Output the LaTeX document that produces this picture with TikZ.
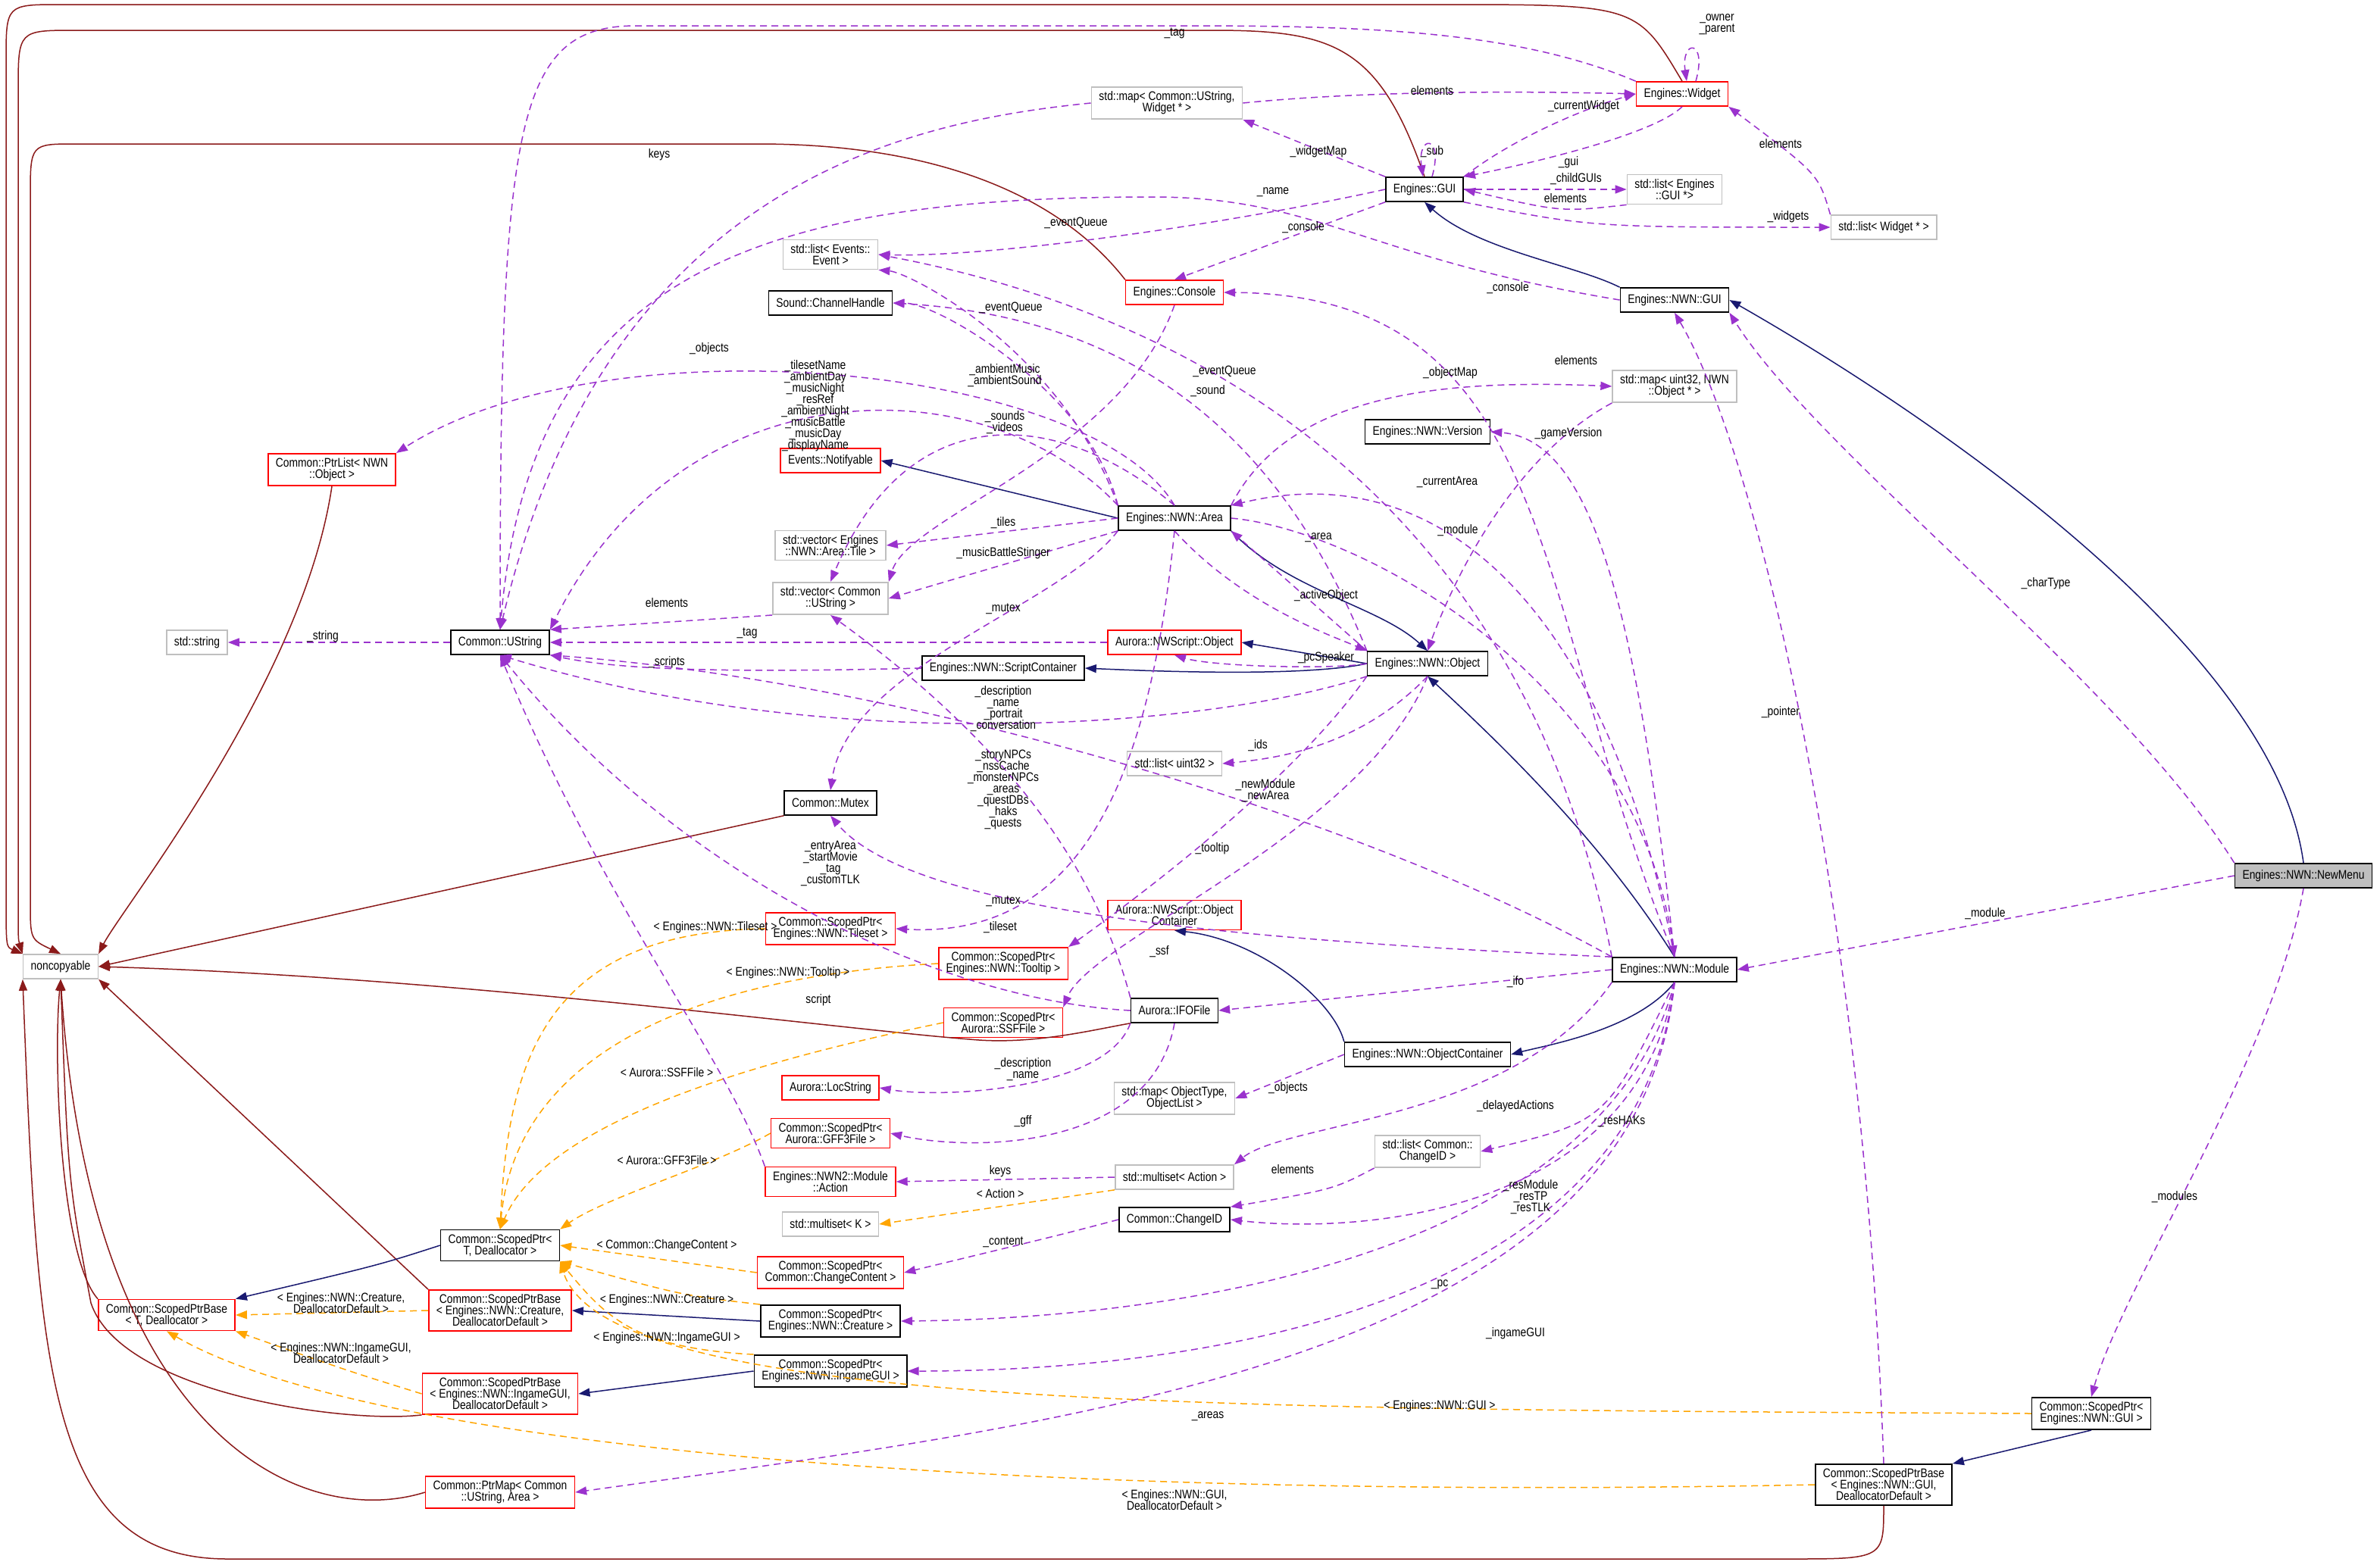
\documentclass[tikz,border=0pt]{standalone}
\usepackage{fontspec}
\setmainfont{Liberation Sans}[FakeStretch=0.84]
\usetikzlibrary{arrows.meta}
\definecolor{pur}{HTML}{9A32CD}
\definecolor{mid}{HTML}{191970}
\definecolor{fire}{HTML}{8B1A1A}
\definecolor{org}{HTML}{FFA500}
\definecolor{gbox}{HTML}{BFBFBF}
\newcommand\nf{\fontsize{16.5}{15}\selectfont\lineskiplimit=-10pt\relax}
\tikzset{
 nd/.style={draw, line width=1.6pt, align=center, inner xsep=10pt, inner ysep=6pt, minimum height=32pt, font=\nf, fill=white},
 bk/.style={nd, draw=black},
 rd/.style={nd, draw=red},
 gr/.style={nd, draw=gbox},
 tipx/.style={-{Triangle[length=15pt,width=11pt]}},
 dep/.style={tipx, draw=pur, line width=1.5pt, dash pattern=on 9pt off 6pt},
 inh/.style={tipx, draw=mid, line width=1.5pt},
 prv/.style={tipx, draw=fire, line width=1.5pt},
 tpl/.style={tipx, draw=org, line width=1.5pt, dash pattern=on 9pt off 6pt},
 lb/.style={font=\nf, align=center, inner sep=1pt}
}
\begin{document}
\begin{tikzpicture}[x=2pt,y=-2pt]
\useasboundingbox[fill=white] (0,0) rectangle (1570.5,1032.5);
% ---------- nodes
\node[nd, draw=black, fill=gbox] (NewMenu) at (1520,578) {Engines::NWN::NewMenu};
\node[rd] (Widget) at (1110,62) {Engines::Widget};
\node[gr] (mapW) at (770,68) {std::map{\textless} Common::UString,\\Widget * {\textgreater}};
\node[bk] (GUI) at (940,125) {Engines::GUI};
\node[gr] (listG) at (1105,125) {std::list{\textless} Engines\\::GUI *{\textgreater}};
\node[gr] (listW) at (1243,150) {std::list{\textless} Widget * {\textgreater}};
\node[gr] (listE) at (548,168) {std::list{\textless} Events::\\Event {\textgreater}};
\node[rd] (Console) at (775,193) {Engines::Console};
\node[bk] (NGUI) at (1105,198) {Engines::NWN::GUI};
\node[bk] (Chan) at (548,200) {Sound::ChannelHandle};
\node[gr] (mapO) at (1105,255) {std::map{\textless} uint32, NWN\\::Object * {\textgreater}};
\node[bk] (Ver) at (942,285) {Engines::NWN::Version};
\node[rd] (PtrList) at (219,310) {Common::PtrList{\textless} NWN\\::Object {\textgreater}};
\node[rd] (Notif) at (548,304) {Events::Notifyable};
\node[bk] (Area) at (775,342) {Engines::NWN::Area};
\node[gr] (vecT) at (548,360) {std::vector{\textless} Engines\\::NWN::Area::Tile {\textgreater}};
\node[gr] (vecU) at (548,395) {std::vector{\textless} Common\\::UString {\textgreater}};
\node[gr] (string) at (130,424) {std::string};
\node[bk] (UStr) at (330,424) {Common::UString};
\node[rd] (NWSO) at (775,424) {Aurora::NWScript::Object};
\node[bk] (SC) at (662,441) {Engines::NWN::ScriptContainer};
\node[bk] (Obj) at (942,438) {Engines::NWN::Object};
\node[gr] (listU) at (775,504) {std::list{\textless} uint32 {\textgreater}};
\node[bk] (Mutex) at (548,530) {Common::Mutex};
\node[rd] (SPTile) at (548,613) {Common::ScopedPtr{\textless}\\Engines::NWN::Tileset {\textgreater}};
\node[rd] (NWSOC) at (775,604) {Aurora::NWScript::Object\\Container};
\node[rd] (SPTool) at (662,636) {Common::ScopedPtr{\textless}\\Engines::NWN::Tooltip {\textgreater}};
\node[bk] (Module) at (1105,640) {Engines::NWN::Module};
\node[gr] (noncop) at (40,638) {noncopyable};
\node[bk] (IFO) at (775,667) {Aurora::IFOFile};
\node[rd] (SPSSF) at (662,675) {Common::ScopedPtr{\textless}\\Aurora::SSFFile {\textgreater}};
\node[gr] (mapOT) at (775,725) {std::map{\textless} ObjectType,\\ObjectList {\textgreater}};
\node[bk] (OC) at (942,696) {Engines::NWN::ObjectContainer};
\node[rd] (LocS) at (548,718) {Aurora::LocString};
\node[rd] (SPGFF) at (548,748) {Common::ScopedPtr{\textless}\\Aurora::GFF3File {\textgreater}};
\node[rd] (Action) at (548,780) {Engines::NWN2::Module\\::Action};
\node[gr] (msA) at (775,777) {std::multiset{\textless} Action {\textgreater}};
\node[gr] (listC) at (942,760) {std::list{\textless} Common::\\ChangeID {\textgreater}};
\node[gr] (msK) at (548,808) {std::multiset{\textless} K {\textgreater}};
\node[bk] (ChID) at (775,805) {Common::ChangeID};
\node[bk] (SPT) at (330,822) {Common::ScopedPtr{\textless}\\T, Deallocator {\textgreater}};
\node[rd] (SPCC) at (548,840) {Common::ScopedPtr{\textless}\\Common::ChangeContent {\textgreater}};
\node[rd] (SPB) at (110,868) {Common::ScopedPtrBase\\{\textless} T, Deallocator {\textgreater}};
\node[rd] (SPBC) at (330,865) {Common::ScopedPtrBase\\{\textless} Engines::NWN::Creature,\\DeallocatorDefault {\textgreater}};
\node[bk] (SPC) at (548,872) {Common::ScopedPtr{\textless}\\Engines::NWN::Creature {\textgreater}};
\node[rd] (SPBI) at (330,920) {Common::ScopedPtrBase\\{\textless} Engines::NWN::IngameGUI,\\DeallocatorDefault {\textgreater}};
\node[bk] (SPI) at (548,905) {Common::ScopedPtr{\textless}\\Engines::NWN::IngameGUI {\textgreater}};
\node[bk] (SPG) at (1380,933) {Common::ScopedPtr{\textless}\\Engines::NWN::GUI {\textgreater}};
\node[rd] (PtrMap) at (330,985) {Common::PtrMap{\textless} Common\\::UString, Area {\textgreater}};
\node[bk] (SPBG) at (1243,980) {Common::ScopedPtrBase\\{\textless} Engines::NWN::GUI,\\DeallocatorDefault {\textgreater}};
% ---------- private inheritance (noncopyable)
\draw[prv] (Widget.north) .. controls (1080,3) .. (950,3) -- (40,3) .. controls (4,3) .. (4,40) -- (4,590) .. controls (4,625) .. (noncop.north west);
\draw[prv] (GUI.north) .. controls (910,30) and (880,20) .. (800,20) -- (50,20) .. controls (12,20) .. (12,60) -- (12,590) .. controls (12,620) .. (noncop.north west);
\draw[prv] (Console.north west) .. controls (700,130) and (620,95) .. (500,95) -- (50,95) .. controls (20,95) .. (20,130) -- (20,595) .. controls (20,620) .. (noncop.north);
\draw[prv] (PtrList.south) .. controls (200,450) and (80,600) .. (noncop.north east);
\draw[prv] (Mutex.south west) -- (noncop.east);
\draw[prv] (IFO.south west) .. controls (720,680) and (680,690) .. (640,686) .. controls (560,680) and (300,645) .. (noncop.east);
\draw[prv] (SPB.north west) .. controls (40,830) and (35,700) .. (noncop.south);
\draw[prv] (SPBC.north west) -- (noncop.south east);
\draw[prv] (SPBI.south west) .. controls (230,940) and (80,920) .. (60,860) .. controls (45,780) .. (noncop.south);
\draw[prv] (PtrMap.west) .. controls (200,1010) and (60,950) .. (noncop.south);
\draw[prv] (SPBG.south) .. controls (1243,1029) .. (1180,1029) -- (150,1029) .. controls (30,1029) and (25,900) .. (noncop.south west);
% ---------- public inheritance
\draw[inh] (NGUI.north west) .. controls (1040,175) and (975,165) .. (GUI.south);
\draw[inh] (NewMenu.north) .. controls (1500,420) and (1250,260) .. (NGUI.east);
\draw[inh] (Area.west) -- (Notif.east);
\draw[inh] (Area.south east) .. controls (850,390) and (910,400) .. (Obj.north);
\draw[inh] (Obj.west) -- (NWSO.east);
\draw[inh] (Obj.west) .. controls (860,447) and (760,443) .. (SC.east);
\draw[inh] (Module.north) .. controls (1060,560) and (1000,500) .. (Obj.south);
\draw[inh] (OC.north west) .. controls (880,660) and (830,620) .. (NWSOC.south);
\draw[inh] (Module.south) .. controls (1080,680) and (1020,690) .. (OC.east);
\draw[inh] (SPT.west) .. controls (250,835) .. (SPB.north east);
\draw[inh] (SPC.west) -- (SPBC.east);
\draw[inh] (SPI.west) -- (SPBI.east);
\draw[inh] (SPG.south) -- (SPBG.north east);
% ---------- template instances
\draw[tpl] (SPTile.west) .. controls (360,615) and (335,700) .. (SPT.north);
\draw[tpl] (SPTool.west) .. controls (450,645) and (340,700) .. (SPT.north);
\draw[tpl] (SPSSF.west) .. controls (500,700) and (360,740) .. (SPT.north);
\draw[tpl] (SPGFF.west) .. controls (470,770) and (400,790) .. (SPT.north east);
\draw[tpl] (SPCC.west) -- (SPT.east);
\draw[tpl] (SPC.north west) .. controls (450,855) .. (SPT.south east);
\draw[tpl] (SPI.north west) .. controls (420,890) and (400,870) .. (SPT.south east);
\draw[tpl] (SPG.west) .. controls (800,930) and (400,930) .. (SPT.south east);
\draw[tpl] (SPBC.west) -- (SPB.east);
\draw[tpl] (SPBI.west) .. controls (230,905) .. (SPB.south east);
\draw[tpl] (SPBG.west) .. controls (700,990) and (250,960) .. (SPB.south);
\draw[tpl] (msA.south west) -- (msK.east);
\node[lb] (t1) at (472,612) {{\textless} Engines::NWN::Tileset {\textgreater}};
\node[lb] (t2) at (520,642) {{\textless} Engines::NWN::Tooltip {\textgreater}};
\node[lb] (t3) at (440,708) {{\textless} Aurora::SSFFile {\textgreater}};
\node[lb] (t4) at (440,766) {{\textless} Aurora::GFF3File {\textgreater}};
\node[lb] (t5) at (440,822) {{\textless} Common::ChangeContent {\textgreater}};
\node[lb] (t6) at (440,858) {{\textless} Engines::NWN::Creature {\textgreater}};
\node[lb] (t7) at (440,883) {{\textless} Engines::NWN::IngameGUI {\textgreater}};
\node[lb] (t8) at (950,928) {{\textless} Engines::NWN::GUI {\textgreater}};
\node[lb] (t9) at (225,860) {{\textless} Engines::NWN::Creature,\\DeallocatorDefault {\textgreater}};
\node[lb] (t10) at (225,893) {{\textless} Engines::NWN::IngameGUI,\\DeallocatorDefault {\textgreater}};
\node[lb] (t11) at (775,990) {{\textless} Engines::NWN::GUI,\\DeallocatorDefault {\textgreater}};
\node[lb] (t12) at (660,788) {{\textless} Action {\textgreater}};
% ---------- usage
\draw[dep] ([xshift=18pt]Widget.north) .. controls +(8,-28) and +(-4,-28) .. ([xshift=6pt]Widget.north);
\draw[dep] ([xshift=10pt]GUI.north) .. controls +(8,-28) and +(-4,-28) .. ([xshift=-2pt]GUI.north);
\draw[dep] (GUI.north east) .. controls (1000,90) and (1050,70) .. (Widget.west);
\draw[dep] (mapW.east) .. controls (900,60) and (1000,60) .. (Widget.west);
\draw[dep] (listW.north west) .. controls (1200,115) .. (Widget.south east);
\draw[dep] (Widget.north west) .. controls (1000,20) and (900,17) .. (780,17) -- (420,17) .. controls (340,17) and (330,80) .. (UStr.north);
\draw[dep] (Widget.south) .. controls (1090,90) and (1000,110) .. (GUI.north east);
\draw[dep] (mapW.west) .. controls (600,80) and (400,120) .. (UStr.north);
\draw[dep] (GUI.north west) -- (mapW.south east);
\draw[dep] (GUI.east) -- (listG.west);
\draw[dep] (listG.south west) .. controls (1030,140) .. (GUI.east);
\draw[dep] (GUI.south east) .. controls (1050,150) .. (listW.west);
\draw[dep] (NGUI.west) .. controls (900,170) and (870,130) .. (760,130) .. controls (500,130) and (350,180) .. (UStr.north);
\draw[dep] (GUI.west) .. controls (800,150) and (650,170) .. (listE.east);
\draw[dep] (GUI.south west) -- (Console.north);
\draw[dep] (Module.north) .. controls (1010,400) and (1030,195) .. (Console.east);
\draw[dep] (Area.north west) .. controls (700,230) and (600,180) .. (listE.south east);
\draw[dep] (Module.north west) .. controls (1000,300) and (750,200) .. (listE.east);
\draw[dep] (Area.north west) .. controls (720,260) and (620,200) .. (Chan.east);
\draw[dep] (Area.north west) .. controls (650,240) and (450,240) .. (UStr.north east);
\draw[dep] (Area.north) .. controls (720,240) and (400,210) .. (PtrList.north east);
\draw[dep] (Area.north) .. controls (700,270) and (600,260) .. (vecU.north);
\draw[dep] (Obj.north west) .. controls (850,300) and (760,210) .. (Chan.east);
\draw[dep] (Console.south) .. controls (740,300) and (600,340) .. (vecU.north east);
\draw[dep] (Area.north east) .. controls (850,260) and (950,250) .. (mapO.west);
\draw[dep] (mapO.south west) .. controls (1000,300) and (960,380) .. (Obj.north);
\draw[dep] (Module.north) .. controls (1080,400) and (1050,290) .. (Ver.east);
\draw[dep] (Module.north) .. controls (1060,400) and (950,300) .. (Area.north east);
\draw[dep] (Obj.north west) -- (Area.south east);
\draw[dep] (Area.east) .. controls (900,350) and (1080,450) .. (Module.north);
\draw[dep] (NewMenu.west) -- (Module.east);
\draw[dep] (Area.west) -- (vecT.east);
\draw[dep] (Area.south west) -- (vecU.east);
\draw[dep] (Area.south west) .. controls (700,400) and (560,440) .. (Mutex.north);
\draw[dep] (Area.south) .. controls (820,400) and (880,420) .. (Obj.north west);
\draw[dep] (NWSO.west) -- (UStr.east);
\draw[dep] (SC.west) .. controls (450,445) and (400,440) .. (UStr.south east);
\draw[dep] (vecU.south west) .. controls (450,410) .. (UStr.north east);
\draw[dep] (UStr.west) -- (string.east);
\draw[dep] (Obj.west) .. controls (880,442) and (800,440) .. (NWSO.south);
\draw[dep] (Obj.south west) .. controls (800,480) and (550,500) .. (UStr.south);
\draw[dep] (Obj.south) .. controls (900,490) and (850,500) .. (listU.east);
\draw[dep] (Module.north west) .. controls (900,540) and (600,450) .. (UStr.south east);
\draw[dep] (IFO.north west) .. controls (720,560) and (650,480) .. (vecU.south);
\draw[dep] (IFO.west) .. controls (620,660) and (450,580) .. (UStr.south);
\draw[dep] (Module.north west) .. controls (800,620) and (600,600) .. (Mutex.south);
\draw[dep] (Area.south) .. controls (760,500) and (720,620) .. (SPTile.east);
\draw[dep] (Obj.south west) .. controls (850,520) and (740,600) .. (SPTool.north east);
\draw[dep] (Obj.south) .. controls (900,550) and (720,620) .. (SPSSF.north east);
\draw[dep] (Module.west) -- (IFO.east);
\draw[dep] (IFO.south west) .. controls (730,720) and (620,725) .. (LocS.east);
\draw[dep] (IFO.south) .. controls (760,760) and (640,760) .. (SPGFF.east);
\draw[dep] (OC.west) -- (mapOT.east);
\draw[dep] (Module.south west) .. controls (1000,740) and (850,740) .. (msA.north east);
\draw[dep] (Module.south) .. controls (1060,740) .. (listC.east);
\draw[dep] (msA.west) -- (Action.east);
\draw[dep] (listC.south west) .. controls (880,785) .. (ChID.north east);
\draw[dep] (Module.south) .. controls (1080,800) and (900,815) .. (ChID.east);
\draw[dep] (ChID.west) .. controls (700,815) .. (SPCC.east);
\draw[dep] (Module.south) .. controls (1060,820) and (800,870) .. (SPC.east);
\draw[dep] (Module.south) .. controls (1080,860) and (800,905) .. (SPI.east);
\draw[dep] (Module.south) .. controls (1080,900) and (700,940) .. (PtrMap.east);
\draw[dep] (NewMenu.north west) .. controls (1400,450) and (1200,300) .. (NGUI.south east);
\draw[dep] (SPBG.north) .. controls (1230,600) and (1160,300) .. (NGUI.south);
\draw[dep] (NewMenu.south) .. controls (1500,700) and (1400,850) .. (SPG.north);
\draw[dep] (Action.north west) .. controls (480,700) and (400,600) .. (UStr.south);
% ---------- labels
\node[lb] (u1) at (1133,16) {\_owner\\\_parent};
\node[lb] (u2) at (945,100) {\_sub};
\node[lb] (u3) at (1045,70) {\_currentWidget};
\node[lb] (u4) at (945,60) {elements};
\node[lb] (u5) at (1175,95) {elements};
\node[lb] (u6) at (775,22) {\_tag};
\node[lb] (u7) at (1035,107) {\_gui};
\node[lb] (u8) at (435,102) {keys};
\node[lb] (u9) at (870,100) {\_widgetMap};
\node[lb] (u10) at (1040,118) {\_childGUIs};
\node[lb] (u11) at (1033,131) {elements};
\node[lb] (u12) at (1180,143) {\_widgets};
\node[lb] (u13) at (840,127) {\_name};
\node[lb] (u14) at (710,147) {\_eventQueue};
\node[lb] (u15) at (860,150) {\_console};
\node[lb] (u16) at (995,190) {\_console};
\node[lb] (u17) at (667,203) {\_eventQueue};
\node[lb] (u18) at (808,245) {\_eventQueue};
\node[lb] (u19) at (663,248) {\_ambientMusic\\\_ambientSound};
\node[lb] (u20) at (538,268) {\_tilesetName\\\_ambientDay\\\_musicNight\\\_resRef\\\_ambientNight\\\_musicBattle\\\_musicDay\\\_displayName};
\node[lb] (u21) at (468,230) {\_objects};
\node[lb] (u22) at (663,279) {\_sounds\\\_videos};
\node[lb] (u23) at (797,258) {\_sound};
\node[lb] (u24) at (957,246) {\_objectMap};
\node[lb] (u25) at (1040,238) {elements};
\node[lb] (u26) at (1035,286) {\_gameVersion};
\node[lb] (u27) at (955,318) {\_currentArea};
\node[lb] (u28) at (870,355) {\_area};
\node[lb] (u29) at (962,350) {\_module};
\node[lb] (u30) at (1310,603) {\_module};
\node[lb] (u31) at (662,345) {\_tiles};
\node[lb] (u32) at (662,365) {\_musicBattleStinger};
\node[lb] (u33) at (662,402) {\_mutex};
\node[lb] (u34) at (875,393) {\_activeObject};
\node[lb] (u35) at (493,418) {\_tag};
\node[lb] (u36) at (440,437) {\_scripts};
\node[lb] (u37) at (440,398) {elements};
\node[lb] (u38) at (213,420) {\_string};
\node[lb] (u39) at (875,434) {\_pcSpeaker};
\node[lb] (u40) at (662,468) {\_description\\\_name\\\_portrait\\\_conversation};
\node[lb] (u41) at (830,492) {\_ids};
\node[lb] (u42) at (835,522) {\_newModule\\\_newArea};
\node[lb] (u43) at (662,521) {\_storyNPCs\\\_nssCache\\\_monsterNPCs\\\_areas\\\_questDBs\\\_haks\\\_quests};
\node[lb] (u44) at (548,570) {\_entryArea\\\_startMovie\\\_tag\\\_customTLK};
\node[lb] (u45) at (662,595) {\_mutex};
\node[lb] (u46) at (660,612) {\_tileset};
\node[lb] (u47) at (800,560) {\_tooltip};
\node[lb] (u48) at (765,628) {\_ssf};
\node[lb] (u49) at (1000,648) {\_ifo};
\node[lb] (u50) at (675,706) {\_description\\\_name};
\node[lb] (u51) at (675,740) {\_gff};
\node[lb] (u52) at (850,718) {\_objects};
\node[lb] (u53) at (1000,730) {\_delayedActions};
\node[lb] (u54) at (1070,740) {\_resHAKs};
\node[lb] (u55) at (660,773) {keys};
\node[lb] (u56) at (853,772) {elements};
\node[lb] (u57) at (1010,790) {\_resModule\\\_resTP\\\_resTLK};
\node[lb] (u58) at (662,820) {\_content};
\node[lb] (u59) at (950,848) {\_pc};
\node[lb] (u60) at (1000,880) {\_ingameGUI};
\node[lb] (u61) at (797,935) {\_areas};
\node[lb] (u62) at (1350,385) {\_charType};
\node[lb] (u63) at (1175,470) {\_pointer};
\node[lb] (u64) at (1435,790) {\_modules};
\node[lb] (u65) at (540,660) {script};
\end{tikzpicture}
\end{document}
